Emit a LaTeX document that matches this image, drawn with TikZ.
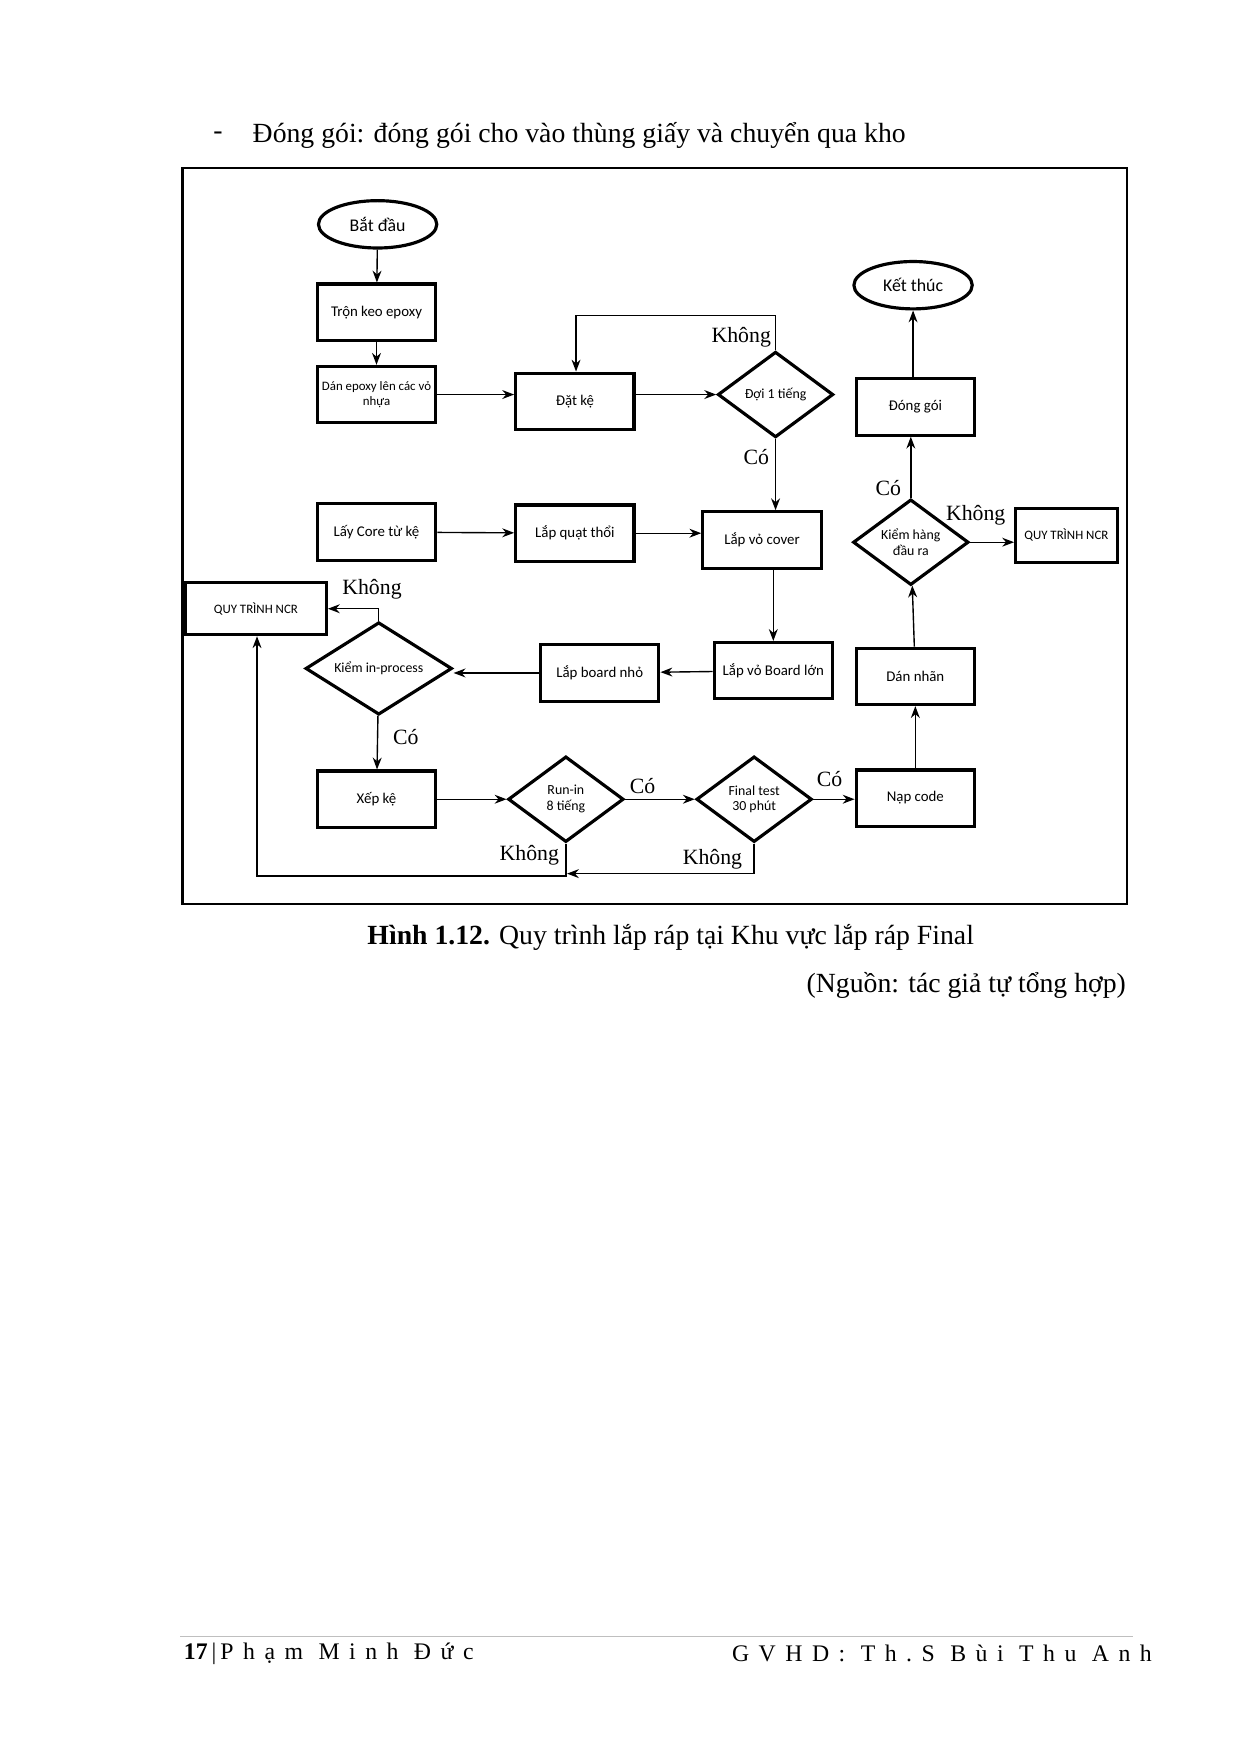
\documentclass[tikz,border=0pt]{standalone}
\usepackage{fontspec}
\setmainfont{Liberation Serif}
\newfontfamily\boxf{Carlito}
\usetikzlibrary{shapes.geometric,arrows.meta}
\begin{document}
\begin{tikzpicture}[x=0.02cm,y=-0.02cm,
 box/.style={draw,line width=1.6pt,minimum width=2.1cm,minimum height=1cm,align=center,font=\boxf\fontsize{7.5}{8}\selectfont,inner sep=1pt},
 dia/.style={draw,diamond,aspect=1.35,line width=1.6pt,minimum width=2.05cm,minimum height=1.52cm,align=center,font=\boxf\fontsize{7}{8}\selectfont,inner sep=0pt},
 ell/.style={draw,ellipse,line width=1.6pt,minimum width=2.1cm,minimum height=0.84cm,font=\boxf\fontsize{9}{10}\selectfont},
 ar/.style={-{Stealth[length=6pt]},line width=0.7pt},
 lab/.style={font=\fontsize{11}{12}\selectfont,inner sep=1pt}]
\useasboundingbox (0,0) rectangle (1100,1556);
\node[anchor=west,font=\fontsize{14}{16}\selectfont] (dash) at (183,120) {-};
\node[anchor=west,font=\fontsize{14}{16}\selectfont] (t1) at (218,120) {Đóng gói: đóng gói cho vào thùng giấy và chuyển qua kho};
\draw[line width=1.2pt] (162,149) rectangle (1000,802);
\node[ell] (start) at (335,199) {Bắt đầu};
\node[box] (tron) at (334,277) {Trộn keo epoxy};
\node[box,font=\boxf\fontsize{6.5}{7.5}\selectfont] (dan) at (334,350) {Dán epoxy lên các vỏ\\nhựa};
\node[box] (datke) at (510,356) {Đặt kệ};
\node[dia] (doi) at (688,350) {Đợi 1 tiếng};
\node[box] (core) at (334,472) {Lấy Core từ kệ};
\node[box] (quat) at (510,473) {Lắp quạt thổi};
\node[box] (cover) at (676,479) {Lắp vỏ cover};
\node[box,minimum width=2.5cm,minimum height=0.92cm,font=\boxf\fontsize{6.5}{7}\selectfont] (ncr1) at (227,540) {QUY TRÌNH NCR};
\node[dia,minimum width=2.6cm,minimum height=1.64cm] (kiem) at (336,593) {Kiểm in-process};
\node[box] (nho) at (532,597) {Lắp board nhỏ};
\node[box] (lon) at (686,595) {Lắp vỏ Board lớn};
\node[box] (xep) at (334,709) {Xếp kệ};
\node[dia] (run) at (502,709) {Run-in\\8 tiếng};
\node[dia] (fin) at (669,709) {Final test\\30 phút};
\node[box] (nap) at (812,708) {Nạp code};
\node[box] (nhan) at (812,600) {Dán nhãn};
\node[dia] (kh) at (808,481) {Kiểm hàng\\đầu ra};
\node[box,minimum width=1.8cm,minimum height=0.96cm,font=\boxf\fontsize{6.5}{7}\selectfont] (ncr2) at (946,475) {QUY TRÌNH NCR};
\node[box] (dong) at (812,361) {Đóng gói};
\node[ell] (end) at (810,253) {Kết thúc};
\draw[ar] (start) -- (tron);
\draw[ar] (tron) -- (dan);
\draw[ar] (dan.east) -- (datke.west|-dan.east);
\draw[ar] (datke.east|-doi) -- (doi);
\draw[ar] (doi.north) -- (688,280) -- (511,280) -- (datke.north-|511,0);
\draw[ar] (doi) -- (cover.north-|doi);
\draw[ar] (core) -- (quat);
\draw[ar] (quat) -- (cover.west|-quat);
\draw[ar] (cover.south-|686,0) -- (lon);
\draw[ar] (lon) -- (nho);
\draw[ar] (nho.west) -- (kiem.east|-nho.west);
\draw[ar] (kiem.north) -- (336,540) -- (ncr1.east);
\draw[ar] (kiem) -- (xep);
\draw[ar] (xep) -- (run);
\draw[ar] (run) -- (fin);
\draw[ar] (fin) -- (nap.west|-fin);
\draw[ar] (run.south) -- (502,777) -- (228,777) -- (ncr1.south-|228,0);
\draw[ar] (fin.south) -- (669,775) -- (503,775);
\draw[ar] (nap) -- (nhan);
\draw[ar] (nhan) -- (kh);
\draw[ar] (kh) -- (ncr2.west|-kh);
\draw[ar] (kh) -- (dong.south-|kh);
\draw[ar] (dong.north-|810,0) -- (end);
\node[lab,anchor=east] (l1) at (686,299) {Không};
\node[lab] (l2) at (671,405) {Có};
\node[lab] (l3) at (330,523) {Không};
\node[lab] (l4) at (360,654) {Có};
\node[lab] (l5) at (570,697) {Có};
\node[lab] (l6) at (736,691) {Có};
\node[lab,anchor=east] (l7) at (498,759) {Không};
\node[lab] (l8) at (632,762) {Không};
\node[lab] (l9) at (788,433) {Có};
\node[lab,anchor=east] (l10) at (894,457) {Không};
\node[font=\fontsize{14}{16}\selectfont] (cap) at (595,832) {\textbf{Hình 1.12.} Quy trình lắp ráp tại Khu vực lắp ráp Final};
\node[anchor=east,font=\fontsize{14}{16}\selectfont] (src) at (1005,874) {(Nguồn: tác giả tự tổng hợp)};
\draw[gray!50,line width=0.4pt] (160,1452) -- (1005,1452);
\node[anchor=west,font=\fontsize{12}{13}\selectfont] (f1) at (157,1467) {\textbf{17}\,|\,\addfontfeature{LetterSpace=40}Phạm Minh Đức};
\node[anchor=east,font=\fontsize{12}{13}\selectfont] (f2) at (1028,1467) {\addfontfeature{LetterSpace=40}GVHD: Th.S Bùi Thu Anh};
\end{tikzpicture}
\end{document}
